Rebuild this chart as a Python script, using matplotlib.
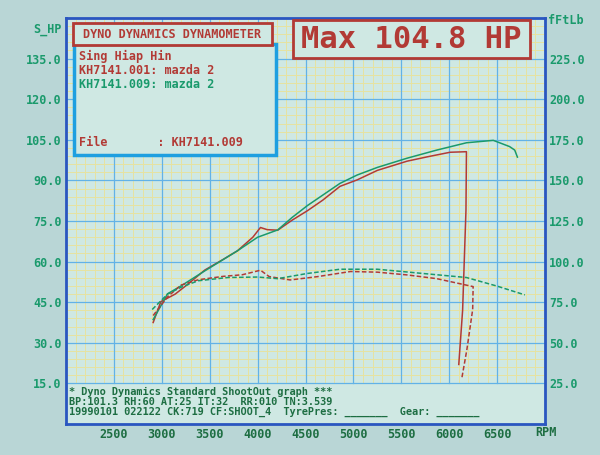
import matplotlib
matplotlib.use('Agg')
import matplotlib.pyplot as plt
from matplotlib.patches import Rectangle

# run KH7141.001 (red) - power in HP, torque in ft-lb
rpm_p001 = [2910, 2990, 3140, 3270, 3450, 3640, 3790, 3950, 4030, 4100, 4210, 4360,
            4520, 4680, 4860, 5040, 5250, 5560, 5770, 6010, 6180, 6175, 6140, 6100]
hp_001 = [37.5, 45.2, 48.0, 51.6, 56.9, 60.8, 64.0, 69.0, 72.6, 71.8, 71.6, 75.3,
          78.8, 82.7, 87.8, 90.2, 93.7, 97.1, 98.7, 100.4, 100.6, 79.0, 42.0, 22.0]
rpm_t001 = [2910, 3060, 3200, 3380, 3640, 3840, 3950, 4030, 4120, 4340, 4620, 4970,
            5250, 5560, 5870, 6250, 6245, 6185, 6130]
tq_001 = [66.8, 78.3, 85.5, 88.8, 90.9, 91.9, 93.5, 94.7, 90.8, 88.7, 90.7, 93.9,
          93.5, 91.8, 89.5, 84.6, 70.5, 46.0, 27.6]

# run KH7141.009 (green)
rpm_p009 = [2910, 3060, 3200, 3450, 3790, 4000, 4210, 4360, 4520, 4860, 5040, 5250,
            5560, 5870, 6180, 6460, 6630, 6684, 6712]
hp_009 = [38.6, 48.1, 51.0, 56.6, 64.0, 69.0, 71.7, 76.3, 80.7, 88.9, 92.0, 94.8,
          98.2, 101.2, 103.9, 104.8, 102.5, 101.2, 98.6]
rpm_t009 = [2900, 3060, 3200, 3380, 3690, 4000, 4210, 4520, 4860, 5250, 5560, 5870,
            6180, 6500, 6790]
tq_009 = [70.5, 80.0, 84.2, 88.2, 90.2, 90.5, 89.5, 92.7, 95.3, 95.3, 93.6, 91.9,
          90.2, 84.9, 79.5]

hp_ticks = [15, 30, 45, 60, 75, 90, 105, 120, 135]
tq_ticks = [25, 50, 75, 100, 125, 150, 175, 200, 225]
rpm_ticks = [2500, 3000, 3500, 4000, 4500, 5000, 5500, 6000, 6500]

RED = '#b23a35'
GRN = '#1a9a6c'
DKGRN = '#1d6e42'
MONO = 'DejaVu Sans Mono'
PAPER = '#cfe8e3'

def fx(px):
    return px / 600.0

def fy(py):
    return 1 - py / 455.0

fig = plt.figure(figsize=(6, 4.55), dpi=100)
fig.patch.set_facecolor('#b9d6d6')

ax = fig.add_axes([fx(66), fy(424), fx(545) - fx(66), fy(18) - fy(424)])
ax.set_facecolor(PAPER)
ax.set_xlim(2000, 7000)
ax.set_ylim(0, 150)

# graph paper: yellow minor, blue major, stops above the footer text
for r in range(2100, 7000, 100):
    if r % 500:
        ax.axvline(r, ymin=0.1, ymax=1, color='#e6e2a0', lw=0.7, zorder=1)
for h in range(18, 150, 3):
    if h % 15:
        ax.axhline(h, color='#e6e2a0', lw=0.7, zorder=1)
for r in range(2500, 7000, 500):
    ax.axvline(r, ymin=0.1, ymax=1, color='#62b2e6', lw=0.9, zorder=2)
for h in range(15, 150, 15):
    ax.axhline(h, color='#62b2e6', lw=0.9, zorder=2)

for s in ax.spines.values():
    s.set_color('#2a56c0')
    s.set_linewidth(2)

ax.plot(rpm_p001, hp_001, color=RED, lw=1.1, zorder=5)
ax.plot(rpm_p009, hp_009, color=GRN, lw=1.1, zorder=5)

ax.set_xticks(rpm_ticks)
ax.set_xticklabels([str(r) for r in rpm_ticks])
ax.set_yticks(hp_ticks)
ax.set_yticklabels(['%.1f' % h for h in hp_ticks])
ax.tick_params(axis='x', length=0, pad=3, labelcolor=DKGRN)
ax.tick_params(axis='y', length=0, pad=3, labelcolor=GRN)
for lbl in ax.get_xticklabels() + ax.get_yticklabels():
    lbl.set_fontfamily(MONO)
    lbl.set_fontweight('bold')
    lbl.set_fontsize(8.5)

ax2 = ax.twinx()
ax2.set_ylim(0, 250)
for s in ax2.spines.values():
    s.set_visible(False)
ax2.plot(rpm_t001, tq_001, color=RED, lw=1.1, ls=(0, (3, 1.5)), zorder=5)
ax2.plot(rpm_t009, tq_009, color=GRN, lw=1.1, ls=(0, (3, 1.5)), zorder=5)
ax2.set_yticks(tq_ticks)
ax2.set_yticklabels(['%.1f' % t for t in tq_ticks])
ax2.tick_params(axis='y', length=0, pad=3, labelcolor=GRN)
for lbl in ax2.get_yticklabels():
    lbl.set_fontfamily(MONO)
    lbl.set_fontweight('bold')
    lbl.set_fontsize(8.5)

# axis captions
fig.text(fx(62), fy(30), 'S_HP', ha='right', va='center', color=GRN,
         family=MONO, weight='bold', fontsize=8.5)
fig.text(fx(548), fy(20), 'fFtLb', ha='left', va='center', color=GRN,
         family=MONO, weight='bold', fontsize=8.5)
fig.text(fx(535), fy(433), 'RPM', ha='left', va='center', color=DKGRN,
         family=MONO, weight='bold', fontsize=8.5)

# boxes drawn over the paper
def box(x0, y0, x1, y1, ec, lw):
    r = Rectangle((fx(x0), fy(y1)), fx(x1) - fx(x0), fy(y0) - fy(y1),
                  transform=fig.transFigure, facecolor=PAPER, edgecolor=ec,
                  lw=lw, zorder=20, clip_on=False)
    ax2.add_patch(r)

box(74, 44, 276, 155, '#1e9fe0', 2.5)
box(73, 23, 272, 45, RED, 2)
box(293, 20, 530, 58, RED, 2)

def txt(x, y, s, c, size=8.5, **kw):
    ax2.text(fx(x), fy(y), s, transform=fig.transFigure, color=c, family=MONO,
             weight='bold', fontsize=size, va='center', zorder=30, **kw)

txt(172, 34, 'DYNO DYNAMICS DYNAMOMETER', RED, ha='center')
txt(79, 56, 'Sing Hiap Hin', RED)
txt(79, 70, 'KH7141.001: mazda 2', RED)
txt(79, 84, 'KH7141.009: mazda 2', GRN)
txt(79, 143, 'File       : KH7141.009', RED)
txt(411, 40, 'Max 104.8 HP', RED, size=22, ha='center')

txt(69, 392, '* Dyno Dynamics Standard ShootOut graph ***', DKGRN, size=7.4)
txt(69, 402, 'BP:101.3 RH:60 AT:25 IT:32  RR:010 TN:3.539', DKGRN, size=7.4)
txt(69, 412, '19990101 022122 CK:719 CF:SHOOT_4  TyrePres: _______  Gear: _______',
    DKGRN, size=7.4)

fig.savefig('out.png', dpi=100, facecolor=fig.get_facecolor())
